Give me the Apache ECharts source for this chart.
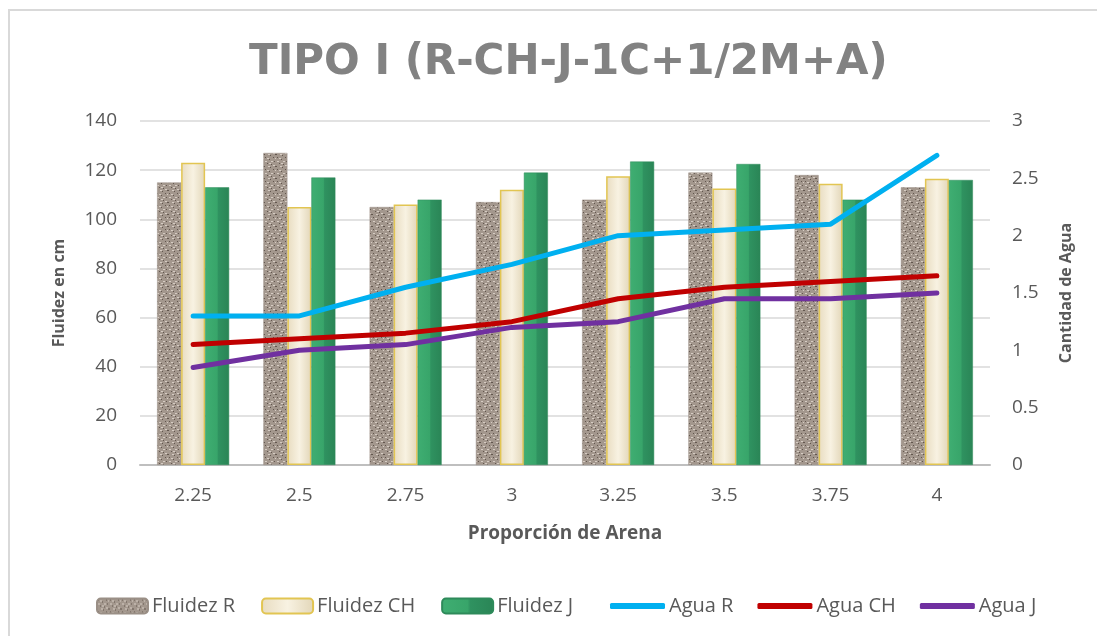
<!DOCTYPE html>
<html>
<head>
<meta charset="utf-8">
<script src="https://cdn.jsdelivr.net/npm/echarts@6/dist/echarts.min.js"></script>
<style>
html,body{margin:0;padding:0;background:#fff;}
#chart{width:1097px;height:636px;}
</style>
</head>
<body>
<div id="chart"></div>
<script>
// ---- data ----
var categories = ['2.25', '2.5', '2.75', '3', '3.25', '3.5', '3.75', '4'];
var fluidezR  = [115, 127, 105, 107, 108, 119, 118, 113];
var fluidezCH = [123, 105, 106, 112, 117.5, 112.5, 114.5, 116.5];
var fluidezJ  = [113, 117, 108, 119, 123.5, 122.5, 108, 116];
var aguaR  = [1.3, 1.3, 1.55, 1.75, 2.0, 2.05, 2.1, 2.7];
var aguaCH = [1.05, 1.1, 1.15, 1.25, 1.45, 1.55, 1.6, 1.65];
var aguaJ  = [0.85, 1.0, 1.05, 1.2, 1.25, 1.45, 1.45, 1.5];
var leftTicks = {min: 0, max: 140, interval: 20};
var rightTicks = {min: 0, max: 3, interval: 0.5};

// ---- granite-like texture for Fluidez R (fixed speckle layout) ----
function makeGranite() {
  var c = document.createElement('canvas');
  c.width = 12; c.height = 12;
  var g = c.getContext('2d');
  g.fillStyle = '#a3978d'; g.fillRect(0, 0, 12, 12);
  var dark = [[1,1],[5,3],[9,1],[3,7],[7,8],[10,5],[0,10],[6,11],[11,10]];
  var light = [[3,2],[7,5],[1,5],[9,9],[4,10],[11,2],[5,7]];
  g.fillStyle = '#62564e';
  dark.forEach(function(p){ g.fillRect(p[0], p[1], 1, 1); });
  g.fillStyle = '#d6ccc3';
  light.forEach(function(p){ g.fillRect(p[0], p[1], 2, 1); });
  return c;
}
var granite = makeGranite();

var font = '"Open Sans", "Noto Sans", sans-serif';
var chart = echarts.init(document.getElementById('chart'), null, {renderer: 'canvas'});

var barBase = {type: 'bar', yAxisIndex: 0, barWidth: 24, barGap: '0%'};
var lineBase = {type: 'line', yAxisIndex: 1, showSymbol: false, symbol: 'none',
  lineStyle: {width: 5, cap: 'round', join: 'round'}};

chart.setOption({
  animation: false,
  backgroundColor: '#ffffff',
  textStyle: {fontFamily: font},
  graphic: [{
    type: 'rect', silent: true, z: -1,
    shape: {x: 9, y: 10, width: 1100, height: 640},
    style: {fill: 'none', stroke: '#d9d9d9', lineWidth: 2}
  }],
  title: {
    text: 'TIPO I (R-CH-J-1C+1/2M+A)',
    left: 244, top: 37,
    textStyle: {fontFamily: '"DejaVu Sans", sans-serif', fontSize: 42, fontWeight: 'bold', color: '#828282'}
  },
  grid: {left: 140, right: 107, top: 121, bottom: 171, containLabel: false},
  legend: [{
    data: ['Fluidez R', 'Fluidez CH', 'Fluidez J'],
    left: 91, top: 591, itemWidth: 51, itemHeight: 15, itemGap: 26,
    textStyle: {fontFamily: font, fontSize: 20, color: '#595959', padding: [0, 0, 0, -1]}
  }, {
    data: ['Agua R', 'Agua CH', 'Agua J'],
    left: 605, top: 591, itemWidth: 55, itemHeight: 6, itemGap: 24, icon: 'roundRect',
    textStyle: {fontFamily: font, fontSize: 20, color: '#595959', padding: [0, 0, 0, -1]}
  }],
  xAxis: {
    type: 'category', data: categories,
    name: 'Proporción de Arena', nameLocation: 'middle', nameGap: 59,
    nameTextStyle: {fontFamily: font, fontSize: 19, fontWeight: 'bold', color: '#595959'},
    axisLine: {lineStyle: {color: '#bfbfbf', width: 2}},
    axisTick: {show: false},
    axisLabel: {fontFamily: font, fontSize: 19, color: '#595959', margin: 21}
  },
  yAxis: [{
    type: 'value', min: leftTicks.min, max: leftTicks.max, interval: leftTicks.interval,
    name: 'Fluidez en cm', nameLocation: 'middle', nameGap: 73, nameRotate: 90,
    nameTextStyle: {fontFamily: font, fontSize: 16, fontWeight: 'bold', color: '#595959'},
    axisLine: {show: false}, axisTick: {show: false},
    axisLabel: {fontFamily: font, fontSize: 19, color: '#595959', margin: 23},
    splitLine: {lineStyle: {color: '#d9d9d9', width: 1.5}}
  }, {
    type: 'value', min: rightTicks.min, max: rightTicks.max, interval: rightTicks.interval,
    position: 'right',
    name: 'Cantidad de Agua', nameLocation: 'middle', nameGap: 68, nameRotate: 90,
    nameTextStyle: {fontFamily: font, fontSize: 16, fontWeight: 'bold', color: '#595959'},
    axisLine: {show: false}, axisTick: {show: false},
    axisLabel: {fontFamily: font, fontSize: 19, color: '#595959', margin: 22},
    splitLine: {show: false}
  }],
  series: [
    Object.assign({}, barBase, {
      name: 'Fluidez R', data: fluidezR,
      itemStyle: {color: {image: granite, repeat: 'repeat'}, borderColor: '#9a8f86', borderWidth: 0.5}
    }),
    Object.assign({}, barBase, {
      name: 'Fluidez CH', data: fluidezCH,
      itemStyle: {
        color: new echarts.graphic.LinearGradient(0, 0, 1, 0, [
          {offset: 0, color: '#e8dcc0'}, {offset: 0.5, color: '#f8f2e2'}, {offset: 1, color: '#e2d6b8'}
        ]),
        borderColor: '#e2c552', borderWidth: 1.5
      }
    }),
    Object.assign({}, barBase, {
      name: 'Fluidez J', data: fluidezJ,
      itemStyle: {
        color: new echarts.graphic.LinearGradient(0, 0, 1, 0, [
          {offset: 0, color: '#3fae72'}, {offset: 0.5, color: '#38a56a'}, {offset: 0.55, color: '#2f9260'}, {offset: 1, color: '#2a8556'}
        ]),
        borderColor: '#2e8a5a', borderWidth: 0.5
      }
    }),
    Object.assign({}, lineBase, {name: 'Agua R', data: aguaR, itemStyle: {color: '#00b0f0'}, lineStyle: Object.assign({}, lineBase.lineStyle, {color: '#00b0f0'})}),
    Object.assign({}, lineBase, {name: 'Agua CH', data: aguaCH, itemStyle: {color: '#c00000'}, lineStyle: Object.assign({}, lineBase.lineStyle, {color: '#c00000'})}),
    Object.assign({}, lineBase, {name: 'Agua J', data: aguaJ, itemStyle: {color: '#7030a0'}, lineStyle: Object.assign({}, lineBase.lineStyle, {color: '#7030a0'})})
  ]
});
</script>
</body>
</html>
